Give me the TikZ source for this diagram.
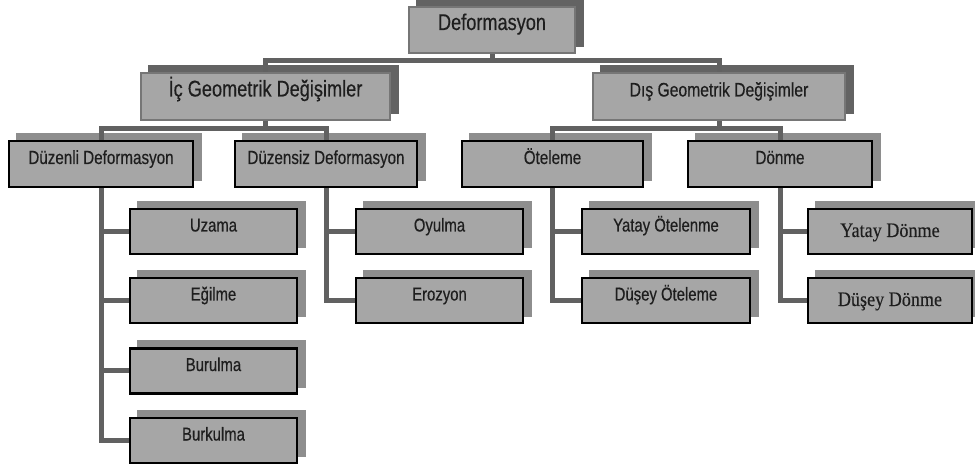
\documentclass[tikz,border=0pt]{standalone}
\usepackage{fontspec}
\newfontfamily\arialc[FakeStretch=0.8,FakeBold=0.4]{Liberation Sans}
\newfontfamily\timesf[FakeStretch=0.88,FakeBold=0.3]{Liberation Serif}
\usetikzlibrary{backgrounds}
\definecolor{boxfill}{HTML}{A6A6A6}
\definecolor{shadA}{HTML}{636363}
\definecolor{shadB}{HTML}{8E8E8E}
\definecolor{connc}{HTML}{616161}
\definecolor{txtc}{HTML}{1E1E1E}
\definecolor{bordA}{HTML}{767676}
\tikzset{
  base/.style={rectangle, fill=boxfill, inner sep=0pt, text=txtc, text height=8pt, text depth=8pt},
  topbox/.style={base, draw=bordA, line width=2pt},
  lowbox/.style={base, draw=black, line width=2.6pt},
  conn/.style={draw=connc, line width=5pt},
}
\newcommand\shadowof[2]{\fill[#2] ([shift={(8,-7)}]#1.south west) rectangle ([shift={(8,-7)}]#1.north east);}
\begin{document}
\begin{tikzpicture}[x=1pt,y=-1pt]
\useasboundingbox (0,0) rectangle (975,470);
% level 1
\node[topbox, minimum width=166pt, minimum height=46pt, font=\arialc\fontsize{22.7}{25}\selectfont] (top) at (492,30) {Deformasyon};
% level 2
\node[topbox, minimum width=249pt, minimum height=47pt, font=\arialc\fontsize{22.7}{25}\selectfont] (ic) at (265.5,96.5) {İç Geometrik Değişimler};
\node[topbox, minimum width=252pt, minimum height=47pt, font=\arialc\fontsize{19.6}{22}\selectfont] (dis) at (719,96.5) {Dış Geometrik Değişimler};
% level 3
\tikzset{l3/.style={lowbox, minimum width=184pt, minimum height=46pt, font=\arialc\fontsize{19}{21}\selectfont}}
\node[l3] (duz) at (101,164) {Düzenli Deformasyon};
\node[l3, minimum width=182pt] (duzs) at (326,164) {Düzensiz Deformasyon};
\node[l3, minimum width=181pt] (ote) at (552.5,164) {Öteleme};
\node[l3] (don) at (780,164) {Dönme};
% level 4
\tikzset{l4/.style={lowbox, minimum width=167pt, minimum height=45pt, font=\arialc\fontsize{18.6}{21}\selectfont},
         l4t/.style={l4, minimum width=164pt, font=\timesf\fontsize{20.6}{22}\selectfont, text height=19pt, text depth=8pt}}
\node[l4] (uz) at (213.5,231.5) {Uzama};
\node[l4] (eg) at (213.5,300.5) {Eğilme};
\node[l4] (bur) at (213.5,371) {Burulma};
\node[l4] (burk) at (213.5,440.5) {Burkulma};
\node[l4] (oy) at (439.5,231.5) {Oyulma};
\node[l4] (ero) at (439.5,300.5) {Erozyon};
\node[l4, minimum width=168pt] (yo) at (666,231.5) {Yatay Ötelenme};
\node[l4, minimum width=168pt] (do) at (666,300.5) {Düşey Öteleme};
\node[l4t] (yd) at (890,231.5) {Yatay Dönme};
\node[l4t] (dd) at (890,300.5) {Düşey Dönme};
\begin{pgfonlayer}{background}
  \shadowof{top}{shadA}
  \shadowof{ic}{shadA}
  \shadowof{dis}{shadA}
  \foreach \n in {duz,duzs,ote,don,uz,eg,bur,burk,oy,ero,yo,do,yd,dd}{\shadowof{\n}{shadB}}
  % connectors
  \draw[conn] (top.south) -- ++(0,9);
  \draw[conn] (ic.north) -- ++(0,-11) -| (dis.north);
  \draw[conn] (ic.south) -- ++(0,10);
  \draw[conn] (duz.north) -- ++(0,-11) -| (duzs.north);
  \draw[conn] (dis.south) -- ++(0,10);
  \draw[conn] (ote.north) -- ++(0,-11) -| (don.north);
  \draw[conn] (duz.south) |- (uz.west);
  \draw[conn] (duz.south) |- (eg.west);
  \draw[conn] (duz.south) |- (bur.west);
  \draw[conn] (duz.south) |- (burk.west);
  \draw[conn] (duzs.south) |- (oy.west);
  \draw[conn] (duzs.south) |- (ero.west);
  \draw[conn] (ote.south) |- (yo.west);
  \draw[conn] (ote.south) |- (do.west);
  \draw[conn] (don.south) |- (yd.west);
  \draw[conn] (don.south) |- (dd.west);
\end{pgfonlayer}
\end{tikzpicture}
\end{document}
